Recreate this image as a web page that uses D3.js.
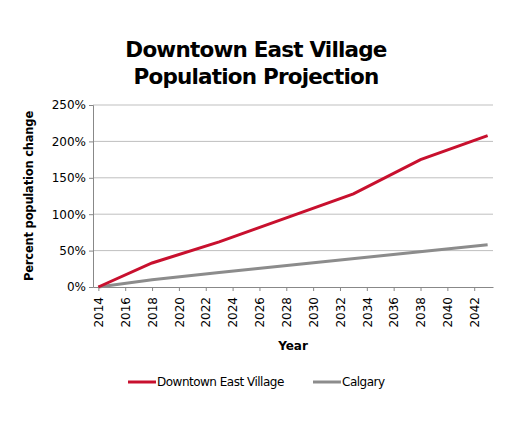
<!DOCTYPE html>
<html><head><meta charset="utf-8">
<script src="https://cdn.jsdelivr.net/npm/d3@7"></script>
<style>body{margin:0;background:#fff;font-family:"DejaVu Sans",sans-serif;}</style>
</head><body>
<script>
// Data
const years = [2014, 2018, 2023, 2033, 2038, 2043];
const downtown = [0, 33, 62, 128, 175, 208];
const calgaryYears = [2014, 2018, 2023, 2043];
const calgary = [0, 10, 20, 58];
const yTicks = [0, 50, 100, 150, 200, 250];
const xTicks = d3.range(2014, 2043, 2);

const W = 509, H = 425;
const svg = d3.select("body").append("svg").attr("width", W).attr("height", H);

const x = d3.scaleLinear().domain([2013.6, 2043.4]).range([93, 493]);
const y = d3.scaleLinear().domain([0, 250]).range([287, 105]);

// Title
svg.append("text").attr("x", 256).attr("y", 57).attr("text-anchor", "middle")
  .attr("font-size", 21.5).attr("font-weight", "bold").attr("letter-spacing", -0.8).text("Downtown East Village");
svg.append("text").attr("x", 256).attr("y", 84).attr("text-anchor", "middle")
  .attr("font-size", 21.5).attr("font-weight", "bold").attr("letter-spacing", -0.8).text("Population Projection");

// Grid
svg.selectAll(".grid").data(yTicks.slice(1)).enter().append("line")
  .attr("x1", 93).attr("x2", 493).attr("y1", d => y(d)).attr("y2", d => y(d))
  .attr("stroke", "#bfbfbf").attr("stroke-width", 1);

// Y axis
const yAxis = svg.append("g").attr("transform", "translate(93,0)")
  .call(d3.axisLeft(y).tickValues(yTicks).tickFormat(d => d + "%").tickSize(4));
yAxis.select(".domain").attr("stroke", "#888");
yAxis.selectAll(".tick line").attr("stroke", "#888");
yAxis.selectAll("text").attr("font-size", 12).attr("fill", "#000").attr("font-family", "DejaVu Sans");

// X axis
const xAxis = svg.append("g").attr("transform", "translate(0,287)")
  .call(d3.axisBottom(x).tickValues(xTicks).tickFormat(d3.format("d")).tickSize(4).tickSizeOuter(0));
xAxis.select(".domain").attr("stroke", "#888");
xAxis.selectAll(".tick line").attr("stroke", "#888");
xAxis.selectAll("text").attr("font-size", 12).attr("fill", "#000").attr("font-family", "DejaVu Sans")
  .attr("transform", "rotate(-90)").attr("text-anchor", "end").attr("x", -10).attr("y", 0).attr("dy", "0.35em");

// Axis titles
svg.append("text").attr("transform", "translate(33,196) rotate(-90)").attr("text-anchor", "middle")
  .attr("font-size", 11.5).attr("font-weight", "bold").attr("letter-spacing", -0.2).text("Percent population change");
svg.append("text").attr("x", 293).attr("y", 350).attr("text-anchor", "middle")
  .attr("font-size", 12).attr("font-weight", "bold").text("Year");

// Lines
const line = d3.line().x(d => x(d[0])).y(d => y(d[1]));
svg.append("path").datum(calgaryYears.map((d, i) => [d, calgary[i]]))
  .attr("d", line).attr("fill", "none").attr("stroke", "#8c8c8c").attr("stroke-width", 3);
svg.append("path").datum(years.map((d, i) => [d, downtown[i]]))
  .attr("d", line).attr("fill", "none").attr("stroke", "#c8102e").attr("stroke-width", 3);

// Legend
const legend = [["Downtown East Village", "#c8102e", 128], ["Calgary", "#8c8c8c", 313]];
legend.forEach(([name, color, lx]) => {
  svg.append("line").attr("x1", lx).attr("x2", lx + 28).attr("y1", 382).attr("y2", 382)
    .attr("stroke", color).attr("stroke-width", 3);
  svg.append("text").attr("x", lx + 29).attr("y", 386).attr("font-size", 12)
    .attr("letter-spacing", -0.5).text(name);
});
</script>
</body></html>
